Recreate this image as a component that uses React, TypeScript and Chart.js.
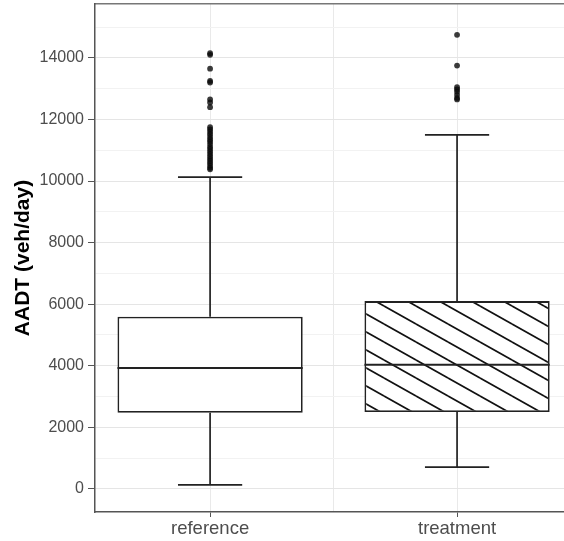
import React, { useEffect, useRef } from "react";
import { Chart, registerables } from "chart.js";

Chart.register(...registerables);

const categories = ["reference", "treatment"];
const categoryPositions = [0, 1];
const gridPositions = [0, 0.5, 1];
const yTicks = [0, 1000, 2000, 3000, 4000, 5000, 6000, 7000, 8000, 9000, 10000, 11000, 12000, 13000, 14000, 15000];
const yLabelStep = 2000;
// box statistics
const q1 = [2470, 2500];
const medians = [3930, 4030];
const q3 = [5590, 6100];
const whiskerLow = [130, 710];
const whiskerHigh = [10130, 11500];
// outliers
const referenceOutliers = [
  14150, 14100, 13650, 13250, 13200, 12650, 12550, 12400, 11750, 11680, 11600,
  11520, 11430, 11350, 11280, 11200, 11110, 11040, 10960, 10880, 10800, 10720,
  10650, 10580, 10500, 10430, 10380,
];
const treatmentOutliers = [14750, 13750, 13050, 12980, 12900, 12800, 12700, 12650];

function makeHatch(): CanvasPattern | string {
  const c = document.createElement("canvas");
  const w = 32;
  const h = 18;
  c.width = w;
  c.height = h;
  const ctx = c.getContext("2d");
  if (!ctx) return "#fff";
  ctx.fillStyle = "#ffffff";
  ctx.fillRect(0, 0, w, h);
  ctx.strokeStyle = "#111";
  ctx.lineWidth = 1.7;
  const shifts = [
    [0, 0],
    [-w, 0],
    [w, 0],
    [0, -h],
    [0, h],
  ];
  for (const [dx, dy] of shifts) {
    ctx.beginPath();
    ctx.moveTo(dx, dy);
    ctx.lineTo(dx + w, dy + h);
    ctx.stroke();
  }
  const p = ctx.createPattern(c, "repeat");
  return p || "#fff";
}

const boxExtrasPlugin = {
  id: "boxExtras",
  afterDatasetsDraw(chart: any) {
    const { ctx, scales } = chart;
    const x = scales.x;
    const y = scales.y;
    const halfBox = 0.375;
    const halfCap = 0.13;
    ctx.save();
    ctx.strokeStyle = "#222";
    ctx.lineCap = "butt";
    categoryPositions.forEach((pos, i) => {
      const cx = x.getPixelForValue(pos);
      ctx.lineWidth = 1.7;
      ctx.beginPath();
      ctx.moveTo(cx, y.getPixelForValue(q3[i]));
      ctx.lineTo(cx, y.getPixelForValue(whiskerHigh[i]));
      ctx.moveTo(cx, y.getPixelForValue(q1[i]));
      ctx.lineTo(cx, y.getPixelForValue(whiskerLow[i]));
      ctx.stroke();
      ctx.beginPath();
      const xl = x.getPixelForValue(pos - halfCap);
      const xr = x.getPixelForValue(pos + halfCap);
      ctx.moveTo(xl, y.getPixelForValue(whiskerHigh[i]));
      ctx.lineTo(xr, y.getPixelForValue(whiskerHigh[i]));
      ctx.moveTo(xl, y.getPixelForValue(whiskerLow[i]));
      ctx.lineTo(xr, y.getPixelForValue(whiskerLow[i]));
      ctx.stroke();
      ctx.lineWidth = 2;
      ctx.beginPath();
      ctx.moveTo(x.getPixelForValue(pos - halfBox), y.getPixelForValue(medians[i]));
      ctx.lineTo(x.getPixelForValue(pos + halfBox), y.getPixelForValue(medians[i]));
      ctx.stroke();
    });
    ctx.restore();
  },
};

export default function App() {
  const ref = useRef<HTMLCanvasElement | null>(null);
  useEffect(() => {
    if (!ref.current) return;
    const hatch = makeHatch();
    const font = "'Liberation Sans', Arial, sans-serif";
    const chart = new Chart(ref.current, {
      type: "bar",
      data: {
        datasets: [
          {
            type: "bar",
            data: categoryPositions.map((p, i) => ({ x: p, y: [q1[i], q3[i]] })) as any,
            backgroundColor: ["#ffffff", hatch] as any,
            borderColor: "#222",
            borderWidth: 1.8,
            borderSkipped: false,
            categoryPercentage: 1,
            barPercentage: 1.5,
            order: 2,
          } as any,
          {
            type: "scatter",
            data: [
              ...referenceOutliers.map((v) => ({ x: categoryPositions[0], y: v })),
              ...treatmentOutliers.map((v) => ({ x: categoryPositions[1], y: v })),
            ],
            pointRadius: 2.9,
            pointBackgroundColor: "rgba(10,10,10,0.8)",
            pointBorderWidth: 0,
            order: 1,
          } as any,
        ],
      },
      options: {
        animation: false,
        responsive: true,
        maintainAspectRatio: false,
        layout: { padding: 0, autoPadding: false },
        plugins: {
          legend: { display: false },
          tooltip: { enabled: false },
        },
        scales: {
          x: {
            type: "linear",
            position: "bottom",
            offset: false,
            min: -0.466,
            max: 1.433,
            afterBuildTicks: (scale: any) => {
              scale.ticks = gridPositions.map((v) => ({ value: v }));
            },
            afterFit: (scale: any) => {
              scale.height = 29;
              scale.paddingLeft = 0;
              scale.paddingRight = 0;
            },
            ticks: {
              autoSkip: false,
              maxRotation: 0,
              padding: 1,
              color: "#4d4d4d",
              font: { family: font, size: 18.5 },
              callback: (v: any) => {
                const idx = categoryPositions.indexOf(Number(v));
                return idx >= 0 ? categories[idx] : "";
              },
            },
            grid: {
              offset: false,
              color: "#e9e9e9",
              lineWidth: 1,
              tickLength: 5,
              tickColor: (ctx: any) =>
                ctx.tick && categoryPositions.includes(ctx.tick.value) ? "#555" : "rgba(0,0,0,0)",
            },
            border: { display: true, color: "#555", width: 1.5 },
          },
          xTop: {
            type: "linear",
            position: "top",
            offset: false,
            min: -0.466,
            max: 1.433,
            afterFit: (scale: any) => {
              scale.height = 4;
              scale.paddingLeft = 0;
              scale.paddingRight = 0;
            },
            ticks: { display: false },
            grid: { display: false, drawTicks: false, offset: false },
            border: { display: true, color: "#777", width: 1.5 },
          },
          y: {
            type: "linear",
            min: -750,
            max: 15750,
            afterBuildTicks: (scale: any) => {
              scale.ticks = yTicks.map((v) => ({ value: v }));
            },
            afterFit: (scale: any) => {
              scale.width = 95;
              scale.paddingTop = 0;
              scale.paddingBottom = 0;
            },
            ticks: {
              autoSkip: false,
              padding: 4,
              color: "#4d4d4d",
              font: { family: font, size: 16 },
              callback: (v: any) => (Number(v) % yLabelStep === 0 ? String(v) : ""),
            },
            grid: {
              color: (ctx: any) =>
                ctx.tick && ctx.tick.value % yLabelStep === 0 ? "#e5e5e5" : "#f2f2f2",
              lineWidth: 1,
              tickLength: 7,
              tickColor: (ctx: any) =>
                ctx.tick && ctx.tick.value % yLabelStep === 0 ? "#555" : "rgba(0,0,0,0)",
            },
            border: { display: true, color: "#555", width: 1.5 },
            title: {
              display: true,
              text: "AADT (veh/day)",
              color: "#000",
              padding: { top: 11, bottom: 0 },
              font: { family: font, size: 21, weight: "bold" },
            },
          },
        },
      },
      plugins: [boxExtrasPlugin],
    } as any);
    return () => chart.destroy();
  }, []);
  return (
    <div style={{ position: "fixed", left: 0, top: 0, width: 564, height: 541, background: "#fff" }}>
      <canvas ref={ref} />
    </div>
  );
}
